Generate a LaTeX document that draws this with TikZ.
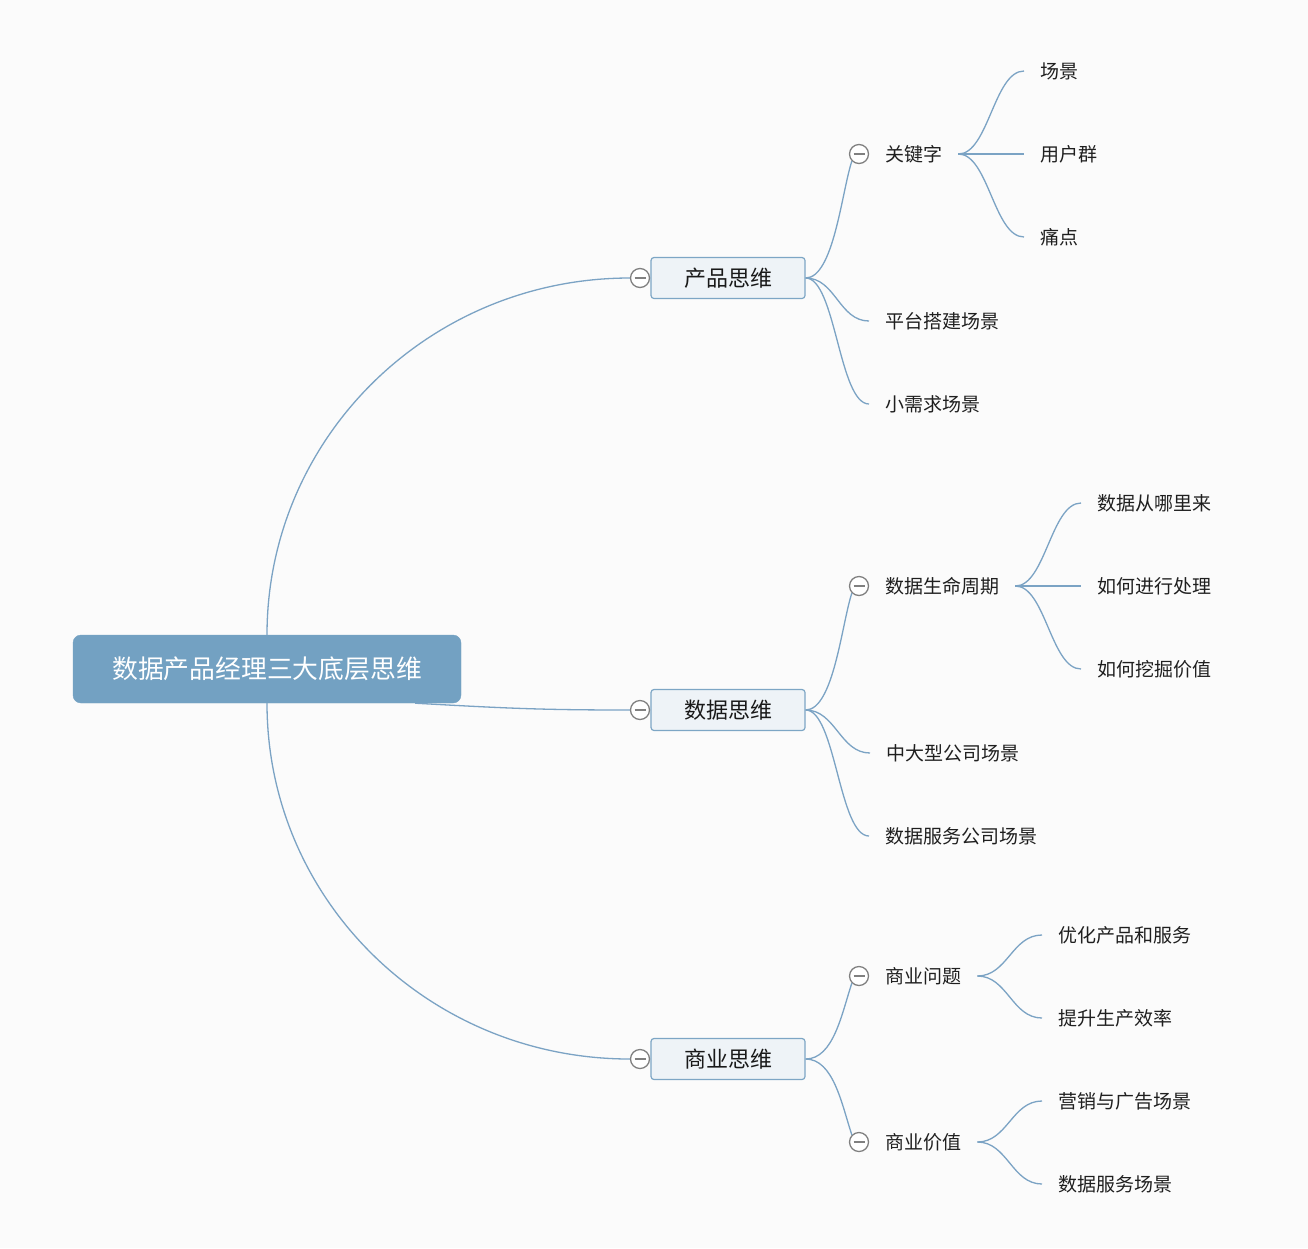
\documentclass[tikz,border=0pt]{standalone}
\usepackage{fontspec}
\setmainfont{Noto Sans CJK SC}
\usetikzlibrary{calc}

\definecolor{fond}{HTML}{FBFBFB}
\definecolor{bleulien}{HTML}{7BA3C4}
\definecolor{racinefond}{HTML}{73A1C2}
\definecolor{branchefond}{HTML}{EEF3F7}
\definecolor{bord}{HTML}{7DA6C5}

\begin{document}
\begin{tikzpicture}[x=1pt, y=-1pt,
  racinebox/.style={draw=racinefond, fill=racinefond, rounded corners=8pt,
    minimum width=388pt, minimum height=68pt, text=white,
    font=\fontsize{25.8}{30}\selectfont},
  branchebox/.style={draw=bord, fill=branchefond, rounded corners=3pt,
    minimum width=154pt, minimum height=41pt, line width=1.2pt, text=black!90,
    font=\fontsize{22}{26}\selectfont},
  feuille/.style={anchor=west, inner xsep=16pt, inner ysep=2pt, text=black!88,
    font=\fontsize{19}{22}\selectfont},
  pli/.style={circle, draw=gray, fill=white, minimum size=19pt, inner sep=0pt,
    line width=1.3pt,
    path picture={\draw[gray, line width=1.3pt]
      ($(path picture bounding box.west)+(4pt,0)$) --
      ($(path picture bounding box.east)+(-4pt,0)$);}},
  lien/.style={draw=bleulien, line width=1.3pt}
]

% Fond
\fill[fond] (0,0) rectangle (1308,1248);
\useasboundingbox (0,0) rectangle (1308,1248);

% Racine et branches
\node[racinebox] (racine) at (267,669) {数据产品经理三大底层思维};
\node[branchebox] (produit) at (728,278) {产品思维};
\node[branchebox] (donnees) at (728,710) {数据思维};
\node[branchebox] (affaires) at (728,1059) {商业思维};
\node[pli] (pliP) at (640,278) {};
\node[pli] (pliD) at (640,710) {};
\node[pli] (pliA) at (640,1059) {};

% Produit
\node[pli] (pliK) at (859,154) {};
\node[feuille] (motcle) at (869,154) {关键字};
\node[feuille] (scene) at (1024,71) {场景};
\node[feuille] (usagers) at (1024,154) {用户群};
\node[feuille] (douleur) at (1024,237) {痛点};
\node[feuille] (plateforme) at (869,321) {平台搭建场景};
\node[feuille] (petit) at (869,404) {小需求场景};

% Donnees
\node[pli] (pliV) at (859,586) {};
\node[feuille] (cycle) at (869,586) {数据生命周期};
\node[feuille] (source) at (1081,503) {数据从哪里来};
\node[feuille] (traite) at (1081,586) {如何进行处理};
\node[feuille] (valeur) at (1081,669) {如何挖掘价值};
\node[feuille] (moyenne) at (870,753) {中大型公司场景};
\node[feuille] (service) at (869,836) {数据服务公司场景};

% Affaires
\node[pli] (pliQ) at (859,976) {};
\node[feuille] (question) at (869,976) {商业问题};
\node[feuille] (optim) at (1042,935) {优化产品和服务};
\node[feuille] (effic) at (1042,1018) {提升生产效率};
\node[pli] (pliW) at (859,1142) {};
\node[feuille] (prix) at (869,1142) {商业价值};
\node[feuille] (pub) at (1042,1101) {营销与广告场景};
\node[feuille] (dserv) at (1042,1184) {数据服务场景};

% Liens depuis la racine
\draw[lien] (racine.north) .. controls +(0,-197) and +(-201,0) .. (pliP.west);
\draw[lien] ([xshift=-46pt]racine.south east) .. controls +(90,5) and +(-90,0) .. (pliD.west);
\draw[lien] (racine.south) .. controls +(0,197) and +(-201,0) .. (pliA.west);

% Liens des branches
\draw[lien] (produit.east) .. controls +(28,0) and +(-10,30) .. (pliK.south west);
\draw[lien] (produit.east) .. controls +(30,0) and +(-30,0) .. (plateforme.west);
\draw[lien] (produit.east) .. controls +(30,0) and +(-30,0) .. (petit.west);
\draw[lien] (donnees.east) .. controls +(28,0) and +(-10,30) .. (pliV.south west);
\draw[lien] (donnees.east) .. controls +(30,0) and +(-30,0) .. (moyenne.west);
\draw[lien] (donnees.east) .. controls +(30,0) and +(-30,0) .. (service.west);
\draw[lien] (affaires.east) .. controls +(28,0) and +(-10,30) .. (pliQ.south west);
\draw[lien] (affaires.east) .. controls +(28,0) and +(-10,-30) .. (pliW.north west);

% Liens des sous-branches
\foreach \dst in {scene, usagers, douleur}
  \draw[lien] (motcle.east) .. controls +(30,0) and +(-30,0) .. (\dst.west);
\foreach \dst in {source, traite, valeur}
  \draw[lien] (cycle.east) .. controls +(30,0) and +(-30,0) .. (\dst.west);
\foreach \dst in {optim, effic}
  \draw[lien] (question.east) .. controls +(30,0) and +(-30,0) .. (\dst.west);
\foreach \dst in {pub, dserv}
  \draw[lien] (prix.east) .. controls +(30,0) and +(-30,0) .. (\dst.west);

\end{tikzpicture}
\end{document}
